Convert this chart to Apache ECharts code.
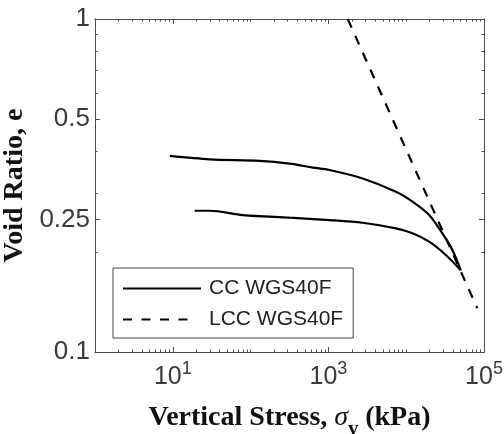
<!DOCTYPE html>
<html lang="en">
<head>
    <meta charset="UTF-8">
    <title>Void ratio vs vertical stress</title>
    <script src="https://cdn.jsdelivr.net/npm/echarts@6/dist/echarts.min.js"></script>
    <style>
        html, body { margin: 0; padding: 0; background: #fff; }
    </style>
</head>
<body>
<div id="main" style="width: 504px;height:434px;"></div>
<script type="text/javascript">
    // CC curve: upper branch out to the peak stress, then the lower branch back (kPa, void ratio)
    var ccStress = [9.16, 29.8, 130, 316, 629, 1030, 2754, 7380, 12050, 19720, 29200, 39240, 50250,
                    32280, 19720, 12050, 7380, 2754, 1030, 316, 79.7, 29.8, 19.1];
    var ccVoid   = [0.388, 0.379, 0.375, 0.368, 0.358, 0.352, 0.332, 0.303, 0.283, 0.258, 0.227, 0.2025, 0.176,
                    0.1956, 0.2144, 0.2273, 0.2351, 0.2444, 0.249, 0.2531, 0.2578, 0.2656, 0.2656];
    // LCC line (straight on log-log)
    var lccStress = [1770, 82000];
    var lccVoid   = [1, 0.1353];

    var xLabelTicks = [10, 1000, 100000];
    var xLabelPow   = ['1', '3', '5'];
    var yLabelTicks = [0.1, 0.25, 0.5, 1];
    var yLabelText  = ['0.1', '0.25', '0.5', '1'];
    var yMinorTicks = [0.2, 0.3, 0.4, 0.6, 0.7, 0.8, 0.9];

    var xMinorTicks = [];
    for (var k = 0; k < 5; k++) {
        for (var m = 1; m <= 9; m++) {
            var v = m * Math.pow(10, k);
            if (xLabelTicks.indexOf(v) < 0) xMinorTicks.push(v);
        }
    }

    function pairs(xs, ys) {
        return xs.map(function (x, i) { return [x, ys[i]]; });
    }

    var axisColor = '#4d4d4d';
    var labelColor = '#3a3a3a';

    function xAxisDef(pos, ticks, len, withLabel) {
        return {
            type: 'log', logBase: 10, min: 1, max: 100000,
            position: pos,
            axisLine: { show: true, onZero: false, lineStyle: { color: axisColor, width: 1 } },
            axisTick: { show: true, inside: true, length: len, customValues: ticks,
                        lineStyle: { color: axisColor, width: 1 } },
            axisLabel: withLabel ? {
                show: true, margin: 8, customValues: xLabelTicks,
                formatter: function (val) {
                    var i = xLabelTicks.indexOf(Math.round(val));
                    return '{b|10}{s|' + (i >= 0 ? xLabelPow[i] : '') + '}';
                },
                rich: {
                    b: { fontFamily: 'Liberation Sans', fontSize: 25, color: labelColor, verticalAlign: 'bottom' },
                    s: { fontFamily: 'Liberation Sans', fontSize: 18, color: labelColor, verticalAlign: 'bottom', padding: [0, 0, 12, 0] }
                }
            } : { show: false },
            splitLine: { show: false }
        };
    }

    function yAxisDef(pos, ticks, len, withLabel) {
        return {
            type: 'log', logBase: 10, min: 0.1, max: 1,
            position: pos,
            axisLine: { show: true, onZero: false, lineStyle: { color: axisColor, width: 1 } },
            axisTick: { show: true, inside: true, length: len, customValues: ticks,
                        lineStyle: { color: axisColor, width: 1 } },
            axisLabel: withLabel ? {
                show: true, margin: 5, customValues: yLabelTicks,
                fontFamily: 'Liberation Sans', fontSize: 26, color: labelColor,
                formatter: function (val) {
                    for (var i = 0; i < yLabelTicks.length; i++) {
                        if (Math.abs(yLabelTicks[i] - val) < 1e-6) return yLabelText[i];
                    }
                    return '';
                }
            } : { show: false },
            splitLine: { show: false }
        };
    }

    var xMain = xAxisDef('bottom', xLabelTicks, 5, true);
    xMain.name = '{a|Vertical Stress, }{g|σ}{v|v}{a| (kPa)}';
    xMain.nameLocation = 'middle';
    xMain.nameGap = 52;
    xMain.nameTextStyle = {
        rich: {
            a: { fontFamily: 'Liberation Serif', fontWeight: 'bold', fontSize: 28, color: '#111', verticalAlign: 'bottom', padding: [0, 0, 8, 0] },
            g: { fontFamily: 'Liberation Serif', fontStyle: 'italic', fontSize: 28, color: '#111', verticalAlign: 'bottom', padding: [0, 0, 8, 0] },
            v: { fontFamily: 'Liberation Serif', fontWeight: 'bold', fontSize: 20, color: '#111', verticalAlign: 'bottom', padding: [0, 0, 0, 0] }
        }
    };

    var yMain = yAxisDef('left', yLabelTicks, 5, true);
    yMain.name = 'Void Ratio, e';
    yMain.nameLocation = 'middle';
    yMain.nameGap = 58;
    yMain.nameTextStyle = { fontFamily: 'Liberation Serif', fontWeight: 'bold', fontSize: 28, color: '#111' };

    var myChart = echarts.init(document.getElementById('main'), null, { renderer: 'canvas' });

    var option = {
        backgroundColor: '#fff',
        animation: false,
        grid: { left: 95, top: 19, width: 389, height: 333, outerBoundsMode: 'none', containLabel: false },
        xAxis: [
            xMain,
            xAxisDef('bottom', xMinorTicks, 2.5, false),
            xAxisDef('top', xLabelTicks, 5, false),
            xAxisDef('top', xMinorTicks, 2.5, false)
        ],
        yAxis: [
            yMain,
            yAxisDef('left', yMinorTicks, 2.5, false),
            yAxisDef('right', yLabelTicks, 5, false),
            yAxisDef('right', yMinorTicks, 2.5, false)
        ],
        legend: {
            orient: 'vertical',
            left: 113, top: 268,
            padding: [10, 10, 8, 9],
            itemGap: 10,
            itemWidth: 78, itemHeight: 14,
            backgroundColor: '#fff',
            borderColor: '#444', borderWidth: 1,
            itemStyle: { opacity: 0 },
            textStyle: { fontFamily: 'Liberation Sans', fontSize: 21, color: '#222', padding: [0, 0, 0, 3] },
            data: [
                { name: 'CC WGS40F' },
                { name: 'LCC WGS40F', lineStyle: { type: [9, 9.5, 9, 9.5, 9, 9.5, 9, 30] } }
            ]
        },
        series: [
            {
                name: 'CC WGS40F', type: 'line',
                xAxisIndex: 0, yAxisIndex: 0,
                symbol: 'none', smooth: 0.3,
                lineStyle: { color: '#000', width: 2.2 },
                itemStyle: { color: '#000' },
                data: pairs(ccStress, ccVoid)
            },
            {
                name: 'LCC WGS40F', type: 'line',
                xAxisIndex: 0, yAxisIndex: 0,
                symbol: 'none',
                lineStyle: { color: '#000', width: 2.2, type: [9.5, 9] },
                itemStyle: { color: '#000' },
                data: pairs(lccStress, lccVoid)
            }
        ]
    };

    myChart.setOption(option);
</script>
</body>
</html>
